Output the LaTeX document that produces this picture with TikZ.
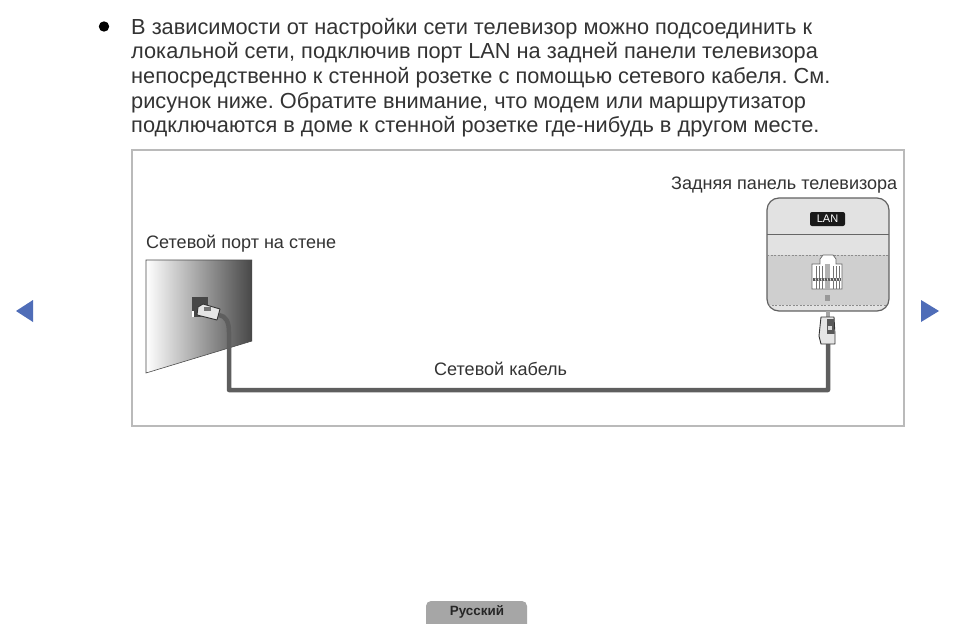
\documentclass[tikz,border=0pt]{standalone}
\usepackage{fontspec}
\setmainfont{Liberation Sans}
\usepackage{tikz}
\usetikzlibrary{calc}
\definecolor{framegray}{HTML}{BABABA}
\definecolor{cablegray}{HTML}{5E5E5E}
\definecolor{navblue}{HTML}{4F6DB8}
\definecolor{panellight}{HTML}{E2E2E2}
\definecolor{paneldark}{HTML}{CFCFCF}
\definecolor{tabgray}{HTML}{A6A6A6}
\tikzset{
  caption/.style={font=\fontsize{18.05}{20}\selectfont,text=black!80,inner sep=0pt,anchor=base west},
  navarrow/.style={fill=navblue,draw=none},
  cable/.style={draw=cablegray,line width=4.5pt,line join=round},
  plugbody/.style={fill=black!10,draw=black!80,line width=0.9pt,line join=round},
}
\frenchspacing
\begin{document}
\begin{tikzpicture}[x=1pt,y=-1pt]
        \useasboundingbox (0,0) rectangle (954,624);
        \fill[white] (0,0) rectangle (954,624);
        % top text
        \fill[black] (104,26.5) circle (5.2);
        \node[font=\fontsize{21.77}{24.6}\selectfont,text=black!80,inner sep=0pt,anchor=north west,align=left] (bodytext) at (131,18)
            {В зависимости от настройки сети телевизор можно подсоединить к\\
             локальной сети, подключив порт LAN на задней панели телевизора\\
             непосредственно к стенной розетке с помощью сетевого кабеля. См.\\
             рисунок ниже. Обратите внимание, что модем или маршрутизатор\\
             подключаются в доме к стенной розетке где-нибудь в другом месте.};
        % frame
        \draw[framegray,line width=2.4pt] (132,150) rectangle (904,426);
        \node[caption] (backlabel) at (671,189) {Задняя панель телевизора};
        \node[caption] (walllabel) at (146,248) {Сетевой порт на стене};
        \node[caption] (cablelabel) at (434,375) {Сетевой кабель};
        % wall
        \shade[left color=white,middle color=black!42,right color=black!72] (146,260) -- (252,260) -- (252,341) -- (146,373) -- cycle;
        \draw[black!70,line width=0.6pt] (252,341) -- (146,373) -- (146,260) -- (252,260);
        \fill[black!72] (192,297) rectangle (208,317);
        \fill[white] (192,311) rectangle (194,317);
        % back panel
        \begin{scope}
            \clip[rounded corners=12] (767,198) rectangle (889,311);
            \fill[panellight] (767,198) rectangle (889,255);
            \fill[paneldark] (767,255) rectangle (889,311);
            \fill[panellight] (767,305) rectangle (889,311);
        \end{scope}
        \draw[black!62,line width=1.2pt,rounded corners=12] (767,198) rectangle (889,311);
        \draw[black!60,line width=0.7pt] (767,234) -- (889,234);
        \draw[black!45,line width=0.7pt,dash pattern=on 2pt off 1.5pt] (767,255) -- (889,255);
        \draw[black!45,line width=0.7pt,dash pattern=on 2pt off 1.5pt] (768,305) -- (888,305);
        \node[fill=black!90,text=white,rounded corners=2,minimum width=35,minimum height=14,inner sep=0pt,font=\fontsize{11}{12}\selectfont] (lanlabel) at (827.5,219) {LAN};
        % socket
        \draw[black!60,fill=white,line width=0.7pt] (812,264) -- (820,264) -- (820,259) -- (823,255) -- (833,255) -- (836,259) -- (836,264) -- (842,264) -- (842,289) -- (812,289) -- cycle;
        \fill[black!30] (825,264) rectangle (830,289);
        \foreach \i in {816,819,822,833,836,839} {
            \draw[black!55,line width=0.5pt] (\i,266) -- (\i,278);
            \draw[black!55,line width=0.5pt] (\i,281) -- (\i,289);
        }
        \fill[black!65] (813,278) rectangle (841,281);
        \foreach \i in {815,818,...,839} {
            \draw[white,line width=0.5pt] (\i,278) -- (\i+1,281);
        }
        \fill[black!40] (825,295) rectangle (830,301);
        % cable
        \coordinate (wallplug) at (219,315);
        \coordinate (panelplug) at (828,343);
        \draw[black!35,line width=4pt] (828,311) -- (828,319);
        \draw[cable] (wallplug) .. controls (226,316) and (229,322) .. (229,332) -- (229,390) -- (828,390) -- (panelplug);
        % plug on the wall
        \draw[plugbody] (198,307) -- (203,304) -- (220,309) -- (217,320) -- (197,315) -- cycle;
        \fill[black!55] (204,307) rectangle (211,311);
        % plug on the panel
        \draw[plugbody] (821,317) -- (834,317) -- (835,335) -- (835,344) -- (821,344) -- (819,336) -- cycle;
        \fill[black!65] (827,319) rectangle (834,334);
        \fill[black!15] (828,326) rectangle (832,330);
        % arrows
        \fill[navarrow] (16,311) -- (33,300) -- (33,322) -- cycle;
        \fill[navarrow] (939,311) -- (921,300) -- (921,322) -- cycle;
        % bottom tab
        \fill[tabgray,rounded corners=5] (426,630) -- (426,601) -- (527,601) -- (527,630) -- cycle;
        \node[font=\fontsize{13.4}{15}\selectfont\bfseries,text=black!85,inner sep=0pt,anchor=base] (langlabel) at (477,615) {Русский};
    \end{tikzpicture}
\end{document}
